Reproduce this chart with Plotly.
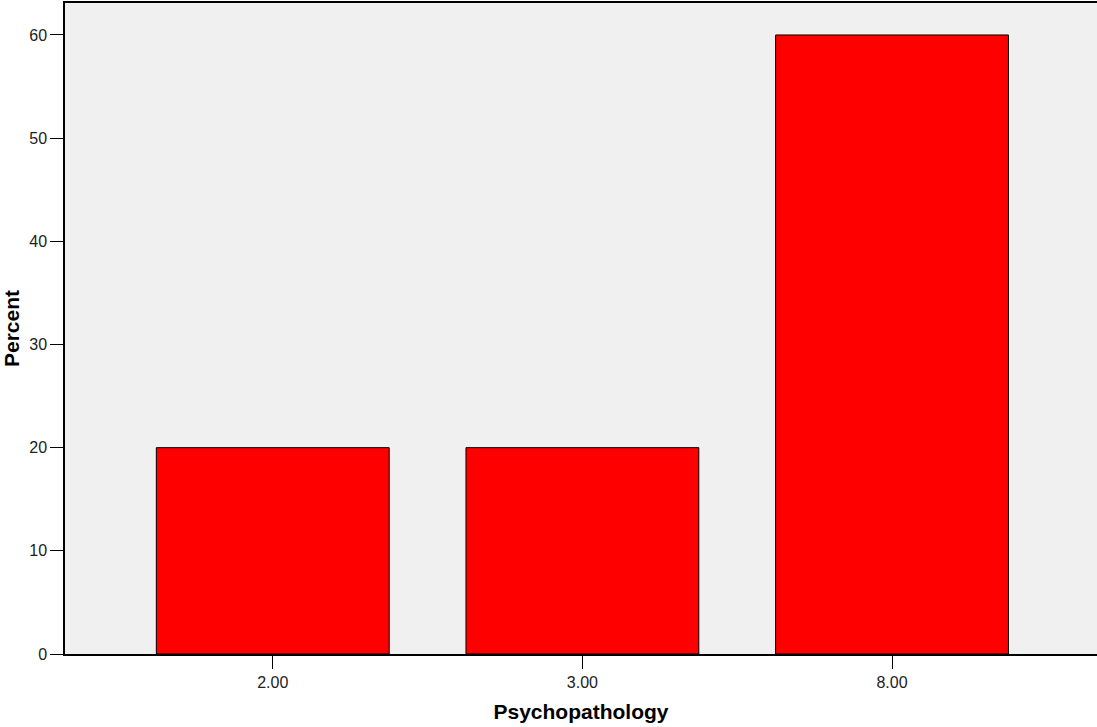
import plotly.graph_objects as go

categories = ["2.00", "3.00", "8.00"]
percent = [20, 20, 60]
y_ticks = [0, 10, 20, 30, 40, 50, 60]

TICK_FONT = "Liberation Sans Narrow, Arial Narrow, Liberation Sans, Arial, sans-serif"
TITLE_FONT = "Liberation Sans, Arial, sans-serif"

fig = go.Figure(go.Bar(
    x=list(range(len(categories))),
    y=percent,
    width=0.752,
    marker=dict(color="#FF0000", line=dict(color="black", width=1)),
))

fig.update_layout(
    width=1097, height=727,
    margin=dict(l=65, r=0, t=3, b=73),
    plot_bgcolor="#F0F0F0",
    paper_bgcolor="white",
    showlegend=False,
    font=dict(family=TICK_FONT, color="#222"),
)
fig.update_xaxes(
    range=[-0.671, 2.662],
    tickmode="array", tickvals=list(range(len(categories))), ticktext=categories,
    ticks="outside", ticklen=13, tickcolor="black", tickwidth=1,
    showline=True, linecolor="black", linewidth=1.5, mirror=True,
    showgrid=False, zeroline=False,
    tickfont=dict(family=TICK_FONT, size=16),
    title=dict(text="<b>Psychopathology</b>", font=dict(family=TITLE_FONT, size=21, color="black"), standoff=14),
)
fig.update_yaxes(
    range=[0, 63.1],
    tickmode="array", tickvals=y_ticks,
    ticks="outside", ticklen=13, tickcolor="black", tickwidth=1,
    showline=True, linecolor="black", linewidth=1.5, mirror=False,
    showgrid=False, zeroline=False,
    tickfont=dict(family=TICK_FONT, size=16),
    title=dict(text="<b>Percent</b>", font=dict(family=TITLE_FONT, size=21, color="black"), standoff=6),
)

fig.write_html(
    "out.html",
    config={"displayModeBar": False},
    post_script="document.body.style.margin='0';document.body.style.overflow='hidden';",
)
